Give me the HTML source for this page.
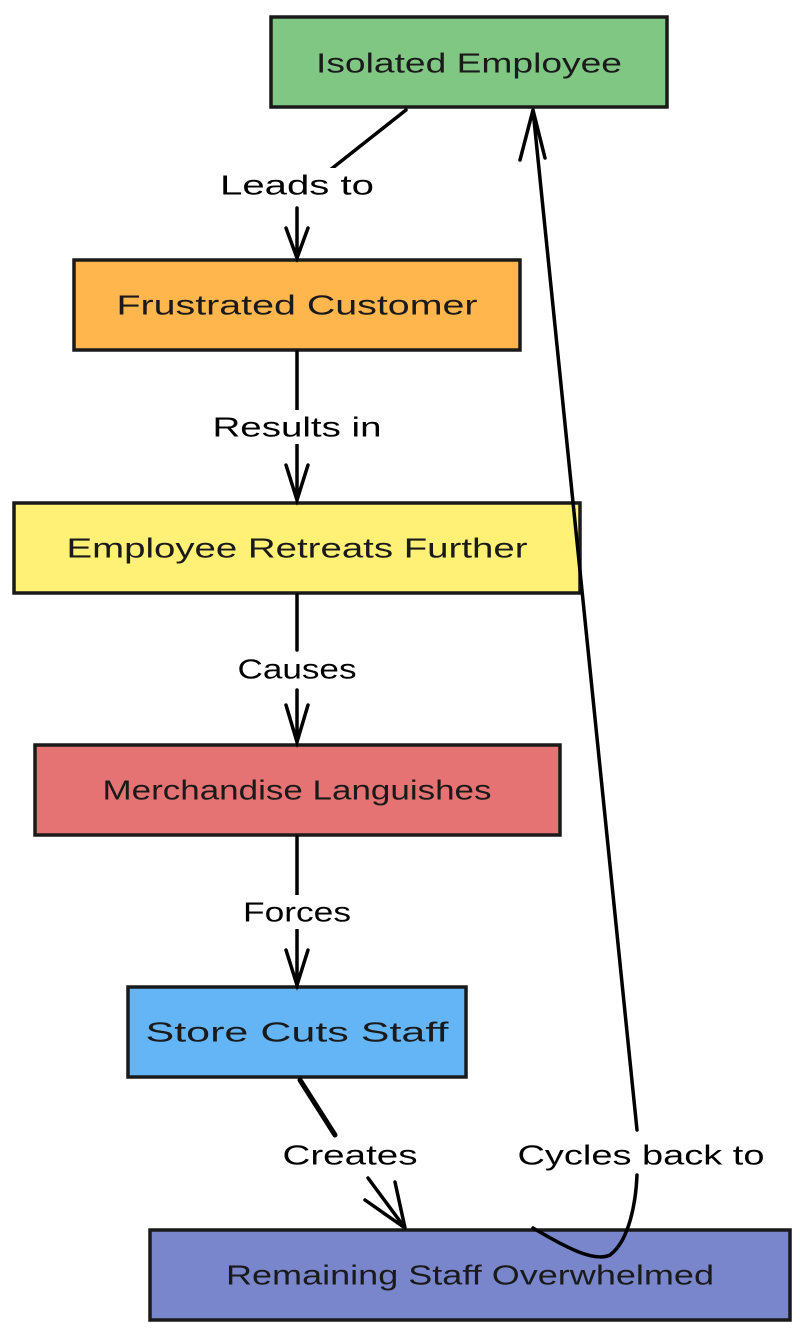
<!DOCTYPE html>
<html><head><meta charset="utf-8"><style>
html,body{margin:0;padding:0;background:#fff;width:800px;height:1337px;overflow:hidden}
svg{display:block}
text{font-family:"Liberation Sans",sans-serif;font-size:28px;fill:#1a1a1a;text-anchor:middle;dominant-baseline:central}
.l{fill:#000}
</style></head><body>
<svg width="800" height="1337" viewBox="0 0 800 1337" xmlns="http://www.w3.org/2000/svg">
<g stroke="#1a1a1a" stroke-width="3.5">
<rect x="271" y="17" width="396" height="90" fill="#81c784"/>
<rect x="74" y="260" width="446" height="90" fill="#ffb74d"/>
<rect x="14" y="503" width="566" height="90" fill="#fff176"/>
<rect x="35" y="745" width="525" height="90" fill="#e57373"/>
<rect x="128" y="987" width="338" height="90" fill="#64b5f6"/>
<rect x="150" y="1230" width="640" height="90" fill="#7986cb"/>
</g>
<g stroke="#000" stroke-width="3.5" fill="none" stroke-linecap="round">
<path d="M406 110 L330 170"/>
<path d="M297 208 L297 258 M286 228 L297 258 L308 228"/>
<path d="M297 352 L297 410 M297 445 L297 500 M286 465 L297 500 L308 465"/>
<path d="M297 595 L297 650 M297 690 L297 742 M286 705 L297 742 L308 705"/>
<path d="M297 837 L297 895 M297 930 L297 985 M286 950 L297 985 L308 950"/>
<path stroke-width="5" d="M300 1080 L335 1135"/>
<path d="M368 1178 L405 1228 L395 1182 M365 1200 L405 1228"/>
<path d="M533 1228 C570 1250 595 1262 610 1255 C630 1240 636 1200 637 1175 M637 1130 L533 110 M520 160 L533 110 L545 158"/>
</g>
<g fill="#fff">
<rect x="215" y="168" width="162" height="34"/>
<rect x="208" y="410" width="178" height="34"/>
<rect x="233" y="652" width="128" height="34"/>
<rect x="238" y="895" width="118" height="34"/>
<rect x="278" y="1138" width="144" height="34"/>
<rect x="512" y="1138" width="256" height="34"/>
</g>
<text x="469" y="63" textLength="306" lengthAdjust="spacingAndGlyphs">Isolated Employee</text>
<text x="297" y="305" textLength="361" lengthAdjust="spacingAndGlyphs">Frustrated Customer</text>
<text x="297" y="548" textLength="461" lengthAdjust="spacingAndGlyphs">Employee Retreats Further</text>
<text x="297" y="790" textLength="389" lengthAdjust="spacingAndGlyphs">Merchandise Languishes</text>
<text x="297" y="1032" textLength="303" lengthAdjust="spacingAndGlyphs">Store Cuts Staff</text>
<text x="470" y="1275" textLength="488" lengthAdjust="spacingAndGlyphs">Remaining Staff Overwhelmed</text>
<text class="l" x="297" y="185" textLength="154" lengthAdjust="spacingAndGlyphs">Leads to</text>
<text class="l" x="297" y="427" textLength="169" lengthAdjust="spacingAndGlyphs">Results in</text>
<text class="l" x="297" y="669" textLength="119" lengthAdjust="spacingAndGlyphs">Causes</text>
<text class="l" x="297" y="912" textLength="108" lengthAdjust="spacingAndGlyphs">Forces</text>
<text class="l" x="350" y="1155" textLength="135" lengthAdjust="spacingAndGlyphs">Creates</text>
<text class="l" x="641" y="1155" textLength="247" lengthAdjust="spacingAndGlyphs">Cycles back to</text>
</svg>
</body></html>
